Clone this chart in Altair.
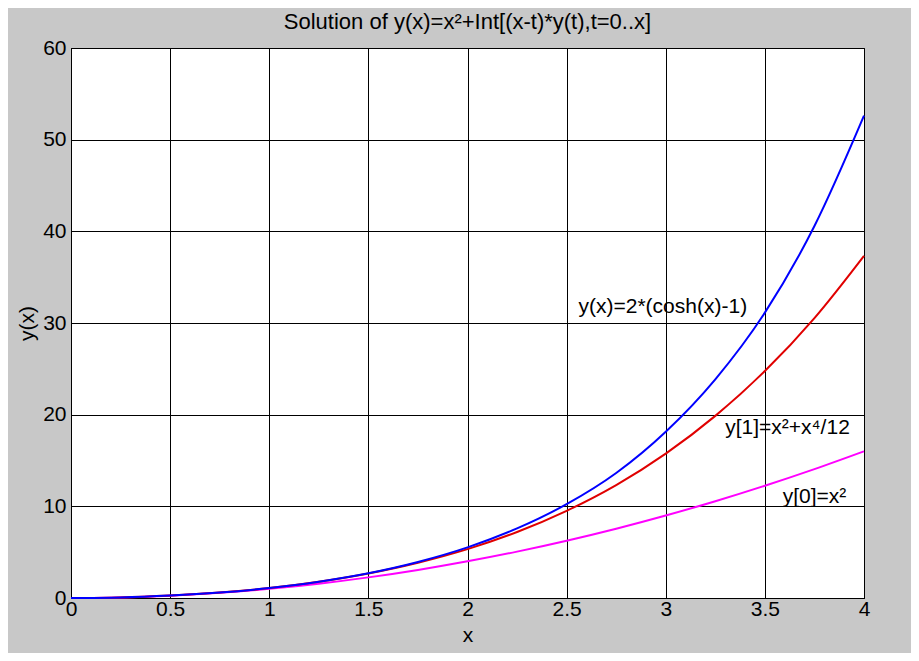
import altair as alt
import pandas as pd

xs = [0, 0.25, 0.5, 0.75, 1, 1.25, 1.5, 1.75, 2, 2.25, 2.5, 2.75, 3, 3.25, 3.5, 3.75, 4]
y_exact = [0, 0.06, 0.26, 0.59, 1.09, 1.78, 2.70, 3.93, 5.52, 7.59, 10.24, 13.64, 18.14, 23.86, 31.13, 40.58, 52.62]
y_one = [0, 0.06, 0.26, 0.59, 1.08, 1.77, 2.67, 3.84, 5.33, 7.20, 9.51, 12.32, 15.75, 19.87, 24.76, 30.54, 37.33]
y_zero = [0, 0.06, 0.25, 0.56, 1.00, 1.56, 2.25, 3.06, 4.00, 5.06, 6.25, 7.56, 9.00, 10.56, 12.25, 14.06, 16.00]

series_names = ["y0", "y1", "exact"]
series_colors = ["#ff00ff", "#e00000", "#0000ff"]

label_texts = ["y(x)=2*(cosh(x)-1)", "y[1]=x²+x⁴/12", "y[0]=x²"]
label_x = [2.56, 3.30, 3.59]
label_y = [31.8, 18.6, 11.0]

rows = []
for name, ys in zip(series_names, [y_zero, y_one, y_exact]):
    for x, y in zip(xs, ys):
        rows.append({"x": x, "y": y, "series": name})
df = pd.DataFrame(rows)
labels = pd.DataFrame({"x": label_x, "y": label_y, "text": label_texts})

FONT = "Liberation Sans"
FS = 21

xscale = alt.Scale(domain=[0, 4], nice=False)
yscale = alt.Scale(domain=[0, 60], nice=False)

xaxis = alt.Axis(values=[0, 0.5, 1, 1.5, 2, 2.5, 3, 3.5, 4], format="~g", title="x",
                 grid=True, gridColor="black", gridOpacity=1, gridWidth=1,
                 domainColor="black", ticks=False, labelPadding=0,
                 labelFont=FONT, labelFontSize=FS, labelColor="black",
                 titleFont=FONT, titleFontSize=FS, titleFontWeight="normal", titleColor="black",
                 titlePadding=5, labelFlush=False)
yaxis = alt.Axis(values=[0, 10, 20, 30, 40, 50, 60], title="y(x)",
                 grid=True, gridColor="black", gridOpacity=1, gridWidth=1,
                 domainColor="black", ticks=False, labelPadding=5,
                 labelFont=FONT, labelFontSize=FS, labelColor="black",
                 titleFont=FONT, titleFontSize=FS, titleFontWeight="normal", titleColor="black",
                 titlePadding=5, labelFlush=False)

lines = alt.Chart(df).mark_line(strokeWidth=2, interpolate="monotone").encode(
    x=alt.X("x:Q", scale=xscale, axis=xaxis),
    y=alt.Y("y:Q", scale=yscale, axis=yaxis),
    color=alt.Color("series:N", scale=alt.Scale(domain=series_names, range=series_colors), legend=None),
    order=alt.Order("x:Q"),
)

text = alt.Chart(labels).mark_text(align="left", baseline="middle", font=FONT, fontSize=FS, color="black").encode(
    x=alt.X("x:Q", scale=xscale),
    y=alt.Y("y:Q", scale=yscale),
    text="text:N",
)

chart = alt.layer(lines, text).properties(
    width=793, height=550,
    title=alt.TitleParams("Solution of y(x)=x²+Int[(x-t)*y(t),t=0..x]", font=FONT, fontSize=22,
                          fontWeight="normal", color="black", anchor="middle", offset=3),
    background="#c8c8c8",
    autosize=alt.AutoSizeParams(type="none"),
    padding={"left": 63, "top": 40, "right": 47, "bottom": 55},
).configure_view(fill="white", stroke="black", strokeWidth=1)

chart.save("out.html", embed_options={"renderer": "svg", "actions": False})
